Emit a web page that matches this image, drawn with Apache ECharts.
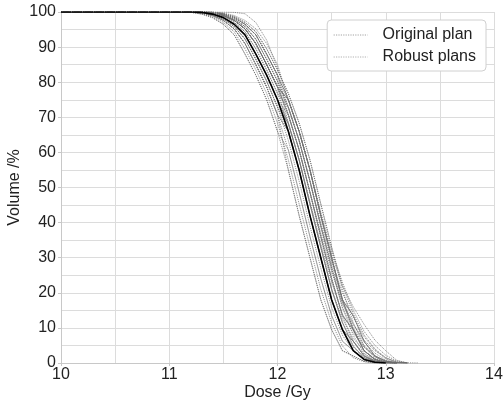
<!DOCTYPE html>
<html><head><meta charset="utf-8">
<script src="https://cdn.jsdelivr.net/npm/echarts@6/dist/echarts.min.js"></script>
<style>html,body{margin:0;padding:0;background:#fff}#c{width:504px;height:404px}</style>
</head><body><div id="c"></div>
<script>
// Dose grid (Gy) shared by all curves
const doses = [10.0, 11.2, 11.3, 11.4, 11.5, 11.6, 11.7, 11.8, 11.9, 12.0, 12.1, 12.2, 12.3, 12.4, 12.5, 12.6, 12.7, 12.8, 12.9, 13.0, 13.1, 13.2, 13.3];
const xTicks = [10, 11, 12, 13, 14];
const yTicks = [0, 10, 20, 30, 40, 50, 60, 70, 80, 90, 100];

// Original plan volume (%)
const originalPlan = [100, 100, 99.9, 99.4, 98.4, 96.5, 93.5, 88, 82, 75, 66, 55, 42, 30, 18, 9.5, 3.5, 1.0, 0.2, 0];

// Robust plans volume (%), each on the dose grid
const robust01 = [100, 100, 99.9, 99.4, 98.4, 96.5, 93.5, 88, 82, 75, 66, 55, 42, 30, 18, 9.5, 6.2, 2.0, 0.5, 0.05, 0];
const robust02 = [100, 100, 100, 99.7, 99.0, 97.6, 95.2, 91.0, 85.0, 78.6, 70.7, 60.7, 48.6, 36, 24, 13.5, 9.5, 3.5, 1.0, 0.2, 0];
const robust03 = [100, 100, 100, 99.7, 99.0, 97.6, 95.2, 91.0, 85.0, 78.6, 75, 66, 55, 42, 30, 18, 13.5, 6.2, 2.0, 0.5, 0.05, 0];
const robust04 = [100, 100, 100, 99.9, 99.4, 98.4, 96.5, 93.5, 88, 82, 75, 66, 55, 42, 30, 18, 13.5, 6.2, 2.0, 0.5, 0.05, 0];
const robust05 = [100, 100, 100, 99.9, 99.4, 98.4, 96.5, 93.5, 88, 82, 75, 66, 55, 42, 31, 22, 16, 11, 6.5, 3.5, 0.8, 0];
const robust06 = [100, 100, 99.7, 99.0, 97.6, 95.2, 91.0, 85.0, 78.6, 70.7, 66, 55, 42, 30, 18, 9.5, 6.2, 2.0, 0.5, 0.05, 0];
const robust07 = [100, 100, 99.7, 99.0, 97.6, 95.2, 91.0, 85.0, 78.6, 70.7, 60.7, 48.6, 36, 24, 13.5, 6.2, 3.5, 1.0, 0.2, 0];
const robust08 = [100, 100, 99.9, 99.4, 98.4, 96.5, 93.5, 88, 82, 75, 70.7, 60.7, 48.6, 36, 24, 13.5, 9.5, 3.5, 1.0, 0.2, 0];
const robust09 = [100, 100, 100, 99.7, 99.0, 97.6, 95.2, 91.0, 85.0, 78.6, 70.7, 60.7, 48.6, 37, 26, 17, 11, 6.5, 3.5, 1.5, 0.3, 0];
const robust10 = [100, 100, 100, 99.7, 99.0, 97.6, 95.2, 91.0, 85.0, 78.6, 75, 66, 55, 43, 32, 23, 15, 9, 5, 2.2, 0.6, 0.05, 0];
const robust11 = [100, 99.9, 99.4, 98.4, 96.5, 93.5, 88, 82, 75, 66, 55, 42, 30, 18, 9.5, 3.5, 2.0, 0.5, 0.05, 0];
const robust12 = [100, 100, 100, 100, 99.7, 99.0, 97.6, 95.2, 91.0, 85.0, 75, 66, 55, 42, 30, 18, 13.5, 6.2, 2.0, 0.5, 0.05, 0];
const robust13 = [100, 100, 99.7, 99.0, 97.6, 95.2, 91.0, 85.0, 78.6, 70.7, 66, 55, 42, 30, 18, 9.5, 3.5, 1.0, 0.2, 0];
const robust14 = [100, 100, 100, 99.7, 99.0, 97.6, 95.2, 91.0, 85.0, 78.6, 66, 55, 42, 30, 18, 9.5, 6.2, 2.0, 0.5, 0.05, 0];
const robust15 = [100, 100, 100, 99.9, 99.4, 98.4, 96.5, 93.5, 88, 82, 70.7, 60.7, 48.6, 36, 24, 13.5, 9.5, 3.5, 1.0, 0.2, 0];
const robust16 = [100, 99.9, 99.4, 98.4, 96.5, 93.5, 88, 82, 75, 66, 60.7, 48.6, 36, 24, 13.5, 6.2, 3.5, 1.0, 0.2, 0];
const robust17 = [100, 100, 100, 100, 100, 99.9, 99.5, 97, 92, 84, 75, 66, 55, 42, 30, 18, 9.5, 3.5, 1.0, 0.2, 0];
const robust18 = [100, 100, 99.9, 99.4, 98.4, 96.5, 93.5, 88, 82, 75, 68, 58, 46, 34, 23, 14, 8.5, 4.5, 2.0, 0.6, 0.1, 0];
const robust19 = [100, 100, 100, 99.7, 99.0, 97.6, 95.2, 91.0, 85.0, 78.6, 70.7, 60.7, 48.6, 36, 24, 13.5, 6.2, 2.0, 0.5, 0.05, 0];
const robust20 = [100, 100, 99.7, 99.0, 97.6, 95.2, 91.0, 85.0, 78.6, 70.7, 55, 42, 30, 18, 9.5, 3.5, 2.0, 0.5, 0.05, 0];
const robust21 = [100, 100, 100, 99.9, 99.4, 98.4, 96.5, 93.5, 88, 82, 75, 66, 55, 42, 30, 18, 9.5, 3.5, 1.0, 0.2, 0];
const robust22 = [100, 100, 100, 99.7, 99.0, 97.6, 95.2, 91.0, 85.0, 78.6, 75, 66, 55, 42, 30, 18, 9.5, 3.5, 1.0, 0.2, 0];
const robust23 = [100, 100, 99.8, 99.2, 98.0, 95.9, 92.3, 86.5, 80.3, 72.9, 63.4, 51.8, 39, 27, 15.8, 7.9, 3.5, 1.0, 0.2, 0];
const robust24 = [100, 100, 99.95, 99.55, 98.7, 97.05, 94.35, 89.5, 83.5, 76.8, 68.35, 57.85, 45.3, 33, 21, 11.5, 6.2, 2.5, 0.6, 0.1, 0];
const robust25 = [100, 100, 100, 99.8, 99.2, 98.0, 95.85, 92.25, 86.5, 80.3, 72.85, 63.35, 51.8, 39, 27, 15.75, 9.5, 4.5, 1.8, 0.4, 0];
const robust26 = [100, 100, 100, 99.95, 99.55, 98.7, 97.05, 94.35, 89.5, 83.5, 76.8, 68.35, 57.85, 45.3, 33, 22, 14, 8, 4, 1.5, 0.3, 0];
const robust27 = [100, 100, 99.95, 99.55, 98.7, 97.05, 94.35, 89.5, 83.5, 76.8, 72.85, 63.35, 51.8, 39, 27, 15.75, 7.85, 2.75, 0.75, 0.12, 0];
const robust28 = [100, 100, 100, 99.8, 99.2, 98.0, 95.85, 92.25, 86.5, 80.3, 68.35, 57.85, 45.3, 33, 21, 11.5, 4.85, 1.5, 0.35, 0.02, 0];
const robust29 = [100, 100, 99.8, 99.2, 98.0, 95.9, 92.3, 86.5, 80.3, 72.9, 68.35, 57.85, 45.3, 33, 21, 12.5, 7, 3.5, 1.2, 0.2, 0];
const robust30 = [100, 100, 100, 99.8, 99.2, 98.0, 95.85, 92.25, 86.5, 80.3, 72.85, 63.35, 51.8, 40, 29, 20, 13, 7.5, 3.8, 1.2, 0.2, 0];
const robust31 = [100, 100, 100, 99.95, 99.55, 98.7, 97.05, 94.35, 89.5, 83.5, 76.8, 68.35, 57.85, 45.3, 33, 21, 11.5, 4.85, 1.5, 0.35, 0.02, 0];
const robust32 = [100, 99.95, 99.55, 98.7, 97.05, 94.35, 89.5, 83.5, 76.8, 68.35, 57.85, 45.3, 33, 21, 11.5, 4.85, 1.5, 0.35, 0.02, 0];
const robust33 = [100, 100, 100, 99.7, 99.0, 97.6, 95.2, 91.0, 85.0, 78.6, 72.85, 63.35, 51.8, 39, 28, 18, 11, 6, 2.8, 0.8, 0.1, 0];
const robust34 = [100, 100, 99.9, 99.4, 98.4, 96.5, 93.5, 88, 82, 75, 68.35, 57.85, 45.3, 33, 21, 11.5, 4.85, 1.5, 0.35, 0.02, 0];
const robust35 = [100, 100, 100, 99.9, 99.4, 98.4, 96.5, 93.5, 88, 82, 72.85, 63.35, 51.8, 39, 27, 17, 10, 5, 2, 0.5, 0];
const robust36 = [100, 100, 99.8, 99.2, 98.0, 95.9, 92.3, 86.5, 80.3, 72.9, 66, 55, 42, 30, 18, 9.5, 4.5, 1.5, 0.3, 0];

const robustPlans = [robust01, robust02, robust03, robust04, robust05, robust06, robust07, robust08, robust09, robust10, robust11,
  robust12, robust13, robust14, robust15, robust16, robust17, robust18, robust19, robust20, robust21, robust22, robust23, robust24,
  robust25, robust26, robust27, robust28, robust29, robust30, robust31, robust32, robust33, robust34, robust35, robust36];

const FONT = '"Liberation Sans", Arial, Helvetica, sans-serif';
const pair = (vals) => vals.map((v, i) => [doses[i], v]);

const robustStyle = { color: '#6e6e6e', width: 0.9, type: [1.2, 1.0], opacity: 0.85 };
const series = robustPlans.map(v => ({
  name: 'Robust plans', type: 'line', data: pair(v), symbol: 'none', silent: true,
  color: '#6e6e6e', lineStyle: robustStyle, z: 2
}));
series.push({
  name: 'Original plan', type: 'line', data: pair(originalPlan), symbol: 'none', silent: true,
  color: '#000', lineStyle: { color: '#000', width: 1.6, type: 'solid' }, z: 5
});

const gridLine = { color: '#dcdcdc', width: 1 };
const chart = echarts.init(document.getElementById('c'), null, { renderer: 'canvas' });
chart.setOption({
  animation: false,
  backgroundColor: '#fff',
  grid: { left: 61, right: 10, top: 12, bottom: 41, containLabel: false, outerBoundsMode: 'none' },
  legend: {
    orient: 'vertical', right: 18, top: 20,
    backgroundColor: '#fff', borderColor: '#d0d0d0', borderWidth: 1, borderRadius: 4,
    padding: [7, 10, 6, 6], itemGap: 6, itemWidth: 34, itemHeight: 12,
    itemStyle: { opacity: 0 },
    textStyle: { fontFamily: FONT, fontSize: 16, color: '#222', padding: [0, 0, 0, 10] },
    data: [
      { name: 'Original plan', itemStyle: { opacity: 0 }, lineStyle: { color: '#8c8c8c', width: 0.8, type: [1.2, 1.2] } },
      { name: 'Robust plans', itemStyle: { opacity: 0 }, lineStyle: { color: '#8c8c8c', width: 0.8, type: [1.2, 1.2] } }
    ]
  },
  xAxis: {
    type: 'value', min: 10, max: 14, interval: 1,
    name: 'Dose /Gy', nameLocation: 'middle', nameGap: 22, nameMoveOverlap: false,
    nameTextStyle: { fontFamily: FONT, fontSize: 16, color: '#222' },
    axisLine: { show: true, lineStyle: { color: '#c8c8c8' } },
    axisTick: { show: true, length: 3, lineStyle: { color: '#c8c8c8' } },
    minorTick: { show: false, splitNumber: 2 },
    axisLabel: { fontFamily: FONT, fontSize: 16, color: '#222', margin: 4,
      formatter: v => (xTicks.indexOf(v) >= 0 ? String(v) : '') },
    splitLine: { show: true, lineStyle: gridLine },
    minorSplitLine: { show: true, lineStyle: gridLine }
  },
  yAxis: {
    type: 'value', min: 0, max: 100, interval: 10,
    name: 'Volume /%', nameLocation: 'middle', nameGap: 38, nameRotate: 90, nameMoveOverlap: false,
    nameTextStyle: { fontFamily: FONT, fontSize: 16, color: '#222' },
    axisLine: { show: true, lineStyle: { color: '#c8c8c8' } },
    axisTick: { show: true, length: 3, lineStyle: { color: '#c8c8c8' } },
    minorTick: { show: false, splitNumber: 2 },
    axisLabel: { fontFamily: FONT, fontSize: 16, color: '#222', margin: 5,
      formatter: v => (yTicks.indexOf(v) >= 0 ? String(v) : '') },
    splitLine: { show: true, lineStyle: gridLine },
    minorSplitLine: { show: true, lineStyle: gridLine }
  },
  series: series
});
</script></body></html>
